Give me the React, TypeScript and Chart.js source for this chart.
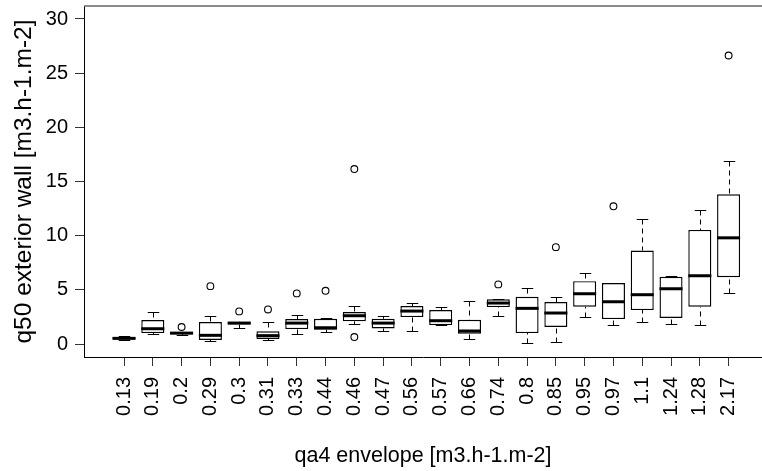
import React, { useEffect, useRef } from 'react';
import { Chart, registerables } from 'chart.js';

Chart.register(...registerables);

const categories = ['0.13', '0.19', '0.2', '0.29', '0.3', '0.31', '0.33', '0.44', '0.46', '0.47', '0.56', '0.57', '0.66', '0.74', '0.8', '0.85', '0.95', '0.97', '1.1', '1.24', '1.28', '2.17'];
const whiskerLow = [0.35, 0.92, 0.86, 0.30, 1.47, 0.40, 0.92, 1.14, 1.84, 1.17, 1.17, 1.75, 0.46, 2.61, 0.12, 0.15, 2.46, 1.78, 2.00, 1.87, 1.78, 4.73];
const quartile1 = [0.42, 1.01, 0.90, 0.37, 1.80, 0.46, 1.38, 1.32, 2.09, 1.44, 2.49, 1.75, 0.95, 3.41, 1.01, 1.57, 3.44, 2.30, 3.13, 2.40, 3.44, 6.17];
const medians = [0.52, 1.41, 1.00, 0.80, 1.93, 0.77, 1.93, 1.50, 2.61, 1.93, 3.04, 2.15, 1.20, 3.78, 3.29, 2.86, 4.64, 3.90, 4.55, 5.10, 6.30, 9.80];
const quartile3 = [0.62, 2.21, 1.12, 2.03, 2.05, 1.17, 2.30, 2.33, 2.95, 2.33, 3.50, 3.13, 2.24, 4.12, 4.36, 3.87, 5.80, 5.62, 8.63, 6.20, 10.53, 13.82];
const whiskerHigh = [0.72, 2.92, 1.15, 2.61, 2.05, 2.00, 2.67, 2.40, 3.53, 2.58, 3.81, 3.41, 3.93, 4.15, 5.19, 4.36, 6.51, 5.62, 11.52, 6.25, 12.38, 16.89];
const outlierCategory = ['0.2', '0.29', '0.3', '0.31', '0.33', '0.44', '0.46', '0.46', '0.74', '0.85', '0.97', '2.17'];
const outlierValue = [1.57, 5.34, 3.01, 3.19, 4.67, 4.91, 16.15, 0.64, 5.50, 8.94, 12.71, 26.63];
const yTicks = [0, 5, 10, 15, 20, 25, 30];

const yTitle = 'q50 exterior wall [m3.h-1.m-2]';
const xTitle = 'qa4 envelope [m3.h-1.m-2]';

const FONT = '"Liberation Sans", Arial, sans-serif';

export default function App() {
  const ref = useRef<HTMLCanvasElement>(null);

  useEffect(() => {
    document.body.style.margin = '0';
    const canvas = ref.current;
    if (!canvas) return;

    const boxPlugin = {
      id: 'boxParts',
      beforeDatasetsDraw(chart: any) {
        const { ctx, scales } = chart;
        const x = scales.x;
        const y = scales.y;
        ctx.save();
        ctx.strokeStyle = '#000';
        ctx.lineWidth = 1;
        categories.forEach((_, i) => {
          const px = Math.round(x.getPixelForValue(i)) + 0.5;
          const half = x.getPixelForValue(i + 0.2) - x.getPixelForValue(i);
          const yHi = Math.round(y.getPixelForValue(whiskerHigh[i])) + 0.5;
          const yLo = Math.round(y.getPixelForValue(whiskerLow[i])) + 0.5;
          const yQ1 = y.getPixelForValue(quartile1[i]);
          const yQ3 = y.getPixelForValue(quartile3[i]);
          ctx.setLineDash([5, 4]);
          ctx.beginPath();
          ctx.moveTo(px, yHi);
          ctx.lineTo(px, yQ3);
          ctx.moveTo(px, yLo);
          ctx.lineTo(px, yQ1);
          ctx.stroke();
          ctx.setLineDash([]);
          ctx.beginPath();
          ctx.moveTo(px - half, yHi);
          ctx.lineTo(px + half, yHi);
          ctx.moveTo(px - half, yLo);
          ctx.lineTo(px + half, yLo);
          ctx.stroke();
        });
        ctx.restore();
      },
      afterDatasetsDraw(chart: any) {
        const { ctx, scales, chartArea } = chart;
        const x = scales.x;
        const y = scales.y;
        ctx.save();
        ctx.strokeStyle = '#000';
        ctx.lineWidth = 3;
        categories.forEach((_, i) => {
          const half = x.getPixelForValue(i + 0.4) - x.getPixelForValue(i);
          const px = x.getPixelForValue(i);
          const pm = y.getPixelForValue(medians[i]);
          ctx.beginPath();
          ctx.moveTo(px - half, pm);
          ctx.lineTo(px + half, pm);
          ctx.stroke();
        });
        ctx.lineWidth = 1.5;
        ctx.strokeStyle = '#666';
        ctx.beginPath();
        ctx.moveTo(chartArea.left, chartArea.top);
        ctx.lineTo(chart.width, chartArea.top);
        ctx.stroke();
        ctx.restore();
      },
    };

    const chart = new Chart(canvas, {
      type: 'bar',
      data: {
        datasets: [
          {
            type: 'bar',
            data: categories.map((_, i) => ({ x: i, y: [quartile1[i], quartile3[i]] })) as any,
            backgroundColor: '#fff',
            borderColor: '#000',
            borderWidth: 1.4,
            borderSkipped: false,
            barPercentage: 0.8,
            categoryPercentage: 1,
          } as any,
          {
            type: 'scatter',
            data: outlierCategory.map((c, k) => ({ x: categories.indexOf(c), y: outlierValue[k] })),
            pointStyle: 'circle',
            pointRadius: 3.4,
            pointHoverRadius: 3.4,
            pointBorderWidth: 1.1,
            pointBorderColor: '#000',
            pointBackgroundColor: 'rgba(0,0,0,0)',
            showLine: false,
          } as any,
        ],
      },
      options: {
        responsive: false,
        animation: false,
        events: [],
        layout: { autoPadding: false, padding: { top: 6, right: 0, left: 0, bottom: 0 } },
        plugins: { legend: { display: false }, tooltip: { enabled: false } },
        scales: {
          x: {
            type: 'linear',
            offset: false,
            min: -1.39,
            max: 22.16,
            afterBuildTicks: (scale: any) => {
              scale.ticks = categories.map((_, i) => ({ value: i }));
            },
            afterFit: (scale: any) => {
              scale.height = 114;
              scale.paddingLeft = 0;
              scale.paddingRight = 0;
            },
            grid: { offset: false, drawOnChartArea: false, drawTicks: true, tickLength: 9, color: '#333' },
            border: { display: true, color: '#000', width: 1 },
            ticks: {
              autoSkip: false,
              minRotation: 90,
              maxRotation: 90,
              padding: 11,
              color: '#000',
              font: { family: FONT, size: 20 },
              callback: (v: any) => categories[v as number] ?? '',
            },
            title: {
              display: true,
              text: xTitle,
              color: '#000',
              font: { family: FONT, size: 21.5 },
              padding: { top: 0, bottom: 2 },
            },
          },
          y: {
            type: 'linear',
            min: -1.2,
            max: 31.2,
            afterBuildTicks: (scale: any) => {
              scale.ticks = yTicks.map((v) => ({ value: v }));
            },
            afterFit: (scale: any) => {
              scale.width = 84;
              scale.paddingTop = 0;
              scale.paddingBottom = 0;
            },
            grid: { drawOnChartArea: false, drawTicks: true, tickLength: 9, color: '#333' },
            border: { display: true, color: '#000', width: 1 },
            ticks: {
              padding: 7,
              color: '#000',
              font: { family: FONT, size: 20 },
            },
            title: {
              display: true,
              text: yTitle,
              color: '#000',
              font: { family: FONT, size: 24.5 },
              padding: { top: 10, bottom: 0 },
            },
          },
        },
      },
      plugins: [boxPlugin],
    });

    return () => chart.destroy();
  }, []);

  return (
    <div style={{ width: 762, height: 471 }}>
      <canvas ref={ref} width={762} height={471} />
    </div>
  );
}
